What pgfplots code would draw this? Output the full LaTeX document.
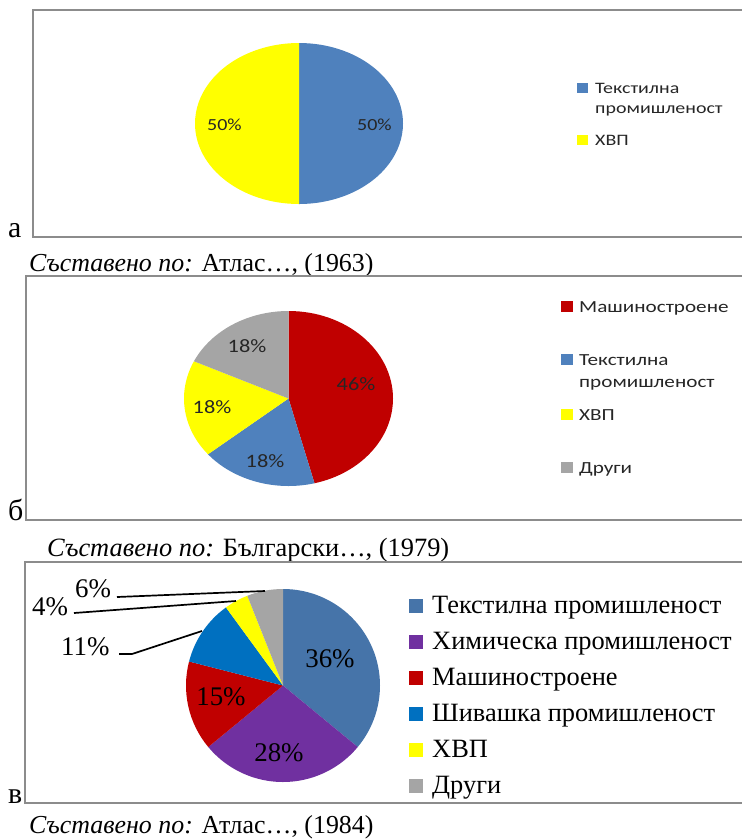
\documentclass[border=0pt]{standalone}
\usepackage{pgfplots}
\pgfplotsset{compat=1.18}
\usepackage{fontspec}
\setmainfont{Liberation Serif}
\newfontfamily\calA[FakeStretch=1.18]{Carlito}
\newfontfamily\calL[FakeStretch=1.25]{Carlito}
\definecolor{blueA}{HTML}{4F81BD}
\definecolor{yelA}{HTML}{FFFF00}
\definecolor{redB}{HTML}{C00000}
\definecolor{grayB}{HTML}{A5A5A5}
\definecolor{blueC}{HTML}{4674A9}
\definecolor{purpC}{HTML}{7030A0}
\definecolor{shivC}{HTML}{0070C0}
\definecolor{boxgray}{HTML}{8C8C8C}
\definecolor{txt}{HTML}{262626}

% pie helpers: running cumulative share, angles go clockwise from the top
\newcommand\piestart[4]{\xdef\pcx{#1}\xdef\pcy{#2}\xdef\prx{#3}\xdef\pry{#4}\xdef\pcum{0}}
\newcommand\slice[2]{%
  \pgfmathsetmacro\sa{90-3.6*\pcum}%
  \pgfmathsetmacro\newcum{\pcum+#1}\xdef\pcum{\newcum}%
  \pgfmathsetmacro\ea{90-3.6*\pcum}%
  \edef\tmp{\noexpand\fill[#2] (axis cs:\pcx,\pcy) -- ++(\sa:\prx bp and \pry bp)
    arc[start angle=\sa,end angle=\ea,x radius=\prx bp,y radius=\pry bp] -- cycle;}%
  \tmp}

\begin{document}
\begin{tikzpicture}
\begin{axis}[
  x=1bp, y=1bp, y dir=reverse,
  xmin=0, xmax=742, ymin=0, ymax=840,
  hide axis, clip=false,
]
% ---------------- panel a ----------------
\draw[boxgray, line width=1.3bp] (axis cs:742,10) -- (axis cs:33,10) -- (axis cs:33,237) -- (axis cs:742,237);
\piestart{299}{123.5}{104}{80.5}
\slice{50}{blueA}
\slice{50}{yelA}
\node[anchor=base, font=\calA\fontsize{17}{17}\selectfont, text=txt] at (axis cs:224.5,130) {50\%};
\node[anchor=base, font=\calA\fontsize{17}{17}\selectfont, text=txt] at (axis cs:374.5,130) {50\%};
\fill[blueA] (axis cs:577,83) rectangle (axis cs:588,93);
\fill[yelA] (axis cs:577,135) rectangle (axis cs:588,145);
\node[anchor=base west, inner sep=0, font=\calL\fontsize{16}{16}\selectfont, text=txt] at (axis cs:595,93) {Текстилна};
\node[anchor=base west, inner sep=0, font=\calL\fontsize{16}{16}\selectfont, text=txt] at (axis cs:595,113) {промишленост};
\node[anchor=base west, inner sep=0, font=\calL\fontsize{16}{16}\selectfont, text=txt] at (axis cs:595,145) {ХВП};
\node[anchor=base west, inner sep=0, font=\fontsize{30}{30}\selectfont] at (axis cs:8,237) {а};
\node[anchor=base west, inner sep=0, font=\fontsize{26}{26}\selectfont] at (axis cs:29,271) {\textit{Съставено по:} Атлас…, (1963)};
% ---------------- panel b ----------------
\draw[boxgray, line width=1.3bp] (axis cs:742,276) -- (axis cs:26,276) -- (axis cs:26,520) -- (axis cs:742,520);
\piestart{288.5}{398.5}{104.5}{87.5}
\slice{46}{redB}
\slice{18}{blueA}
\slice{18}{yelA}
\slice{18}{grayB}
\node[anchor=base, font=\calA\fontsize{19}{19}\selectfont, text=txt] at (axis cs:356,390) {46\%};
\node[anchor=base, font=\calA\fontsize{19}{19}\selectfont, text=txt] at (axis cs:247,352) {18\%};
\node[anchor=base, font=\calA\fontsize{19}{19}\selectfont, text=txt] at (axis cs:212,413) {18\%};
\node[anchor=base, font=\calA\fontsize{19}{19}\selectfont, text=txt] at (axis cs:265,467) {18\%};
\fill[redB] (axis cs:561,301) rectangle (axis cs:573,312);
\fill[blueA] (axis cs:561,354) rectangle (axis cs:573,365);
\fill[yelA] (axis cs:561,409) rectangle (axis cs:573,420);
\fill[grayB] (axis cs:561,462) rectangle (axis cs:573,473);
\node[anchor=base west, inner sep=0, font=\calL\fontsize{17}{17}\selectfont, text=txt] at (axis cs:579,312) {Машиностроене};
\node[anchor=base west, inner sep=0, font=\calL\fontsize{17}{17}\selectfont, text=txt] at (axis cs:579,365) {Текстилна};
\node[anchor=base west, inner sep=0, font=\calL\fontsize{17}{17}\selectfont, text=txt] at (axis cs:579,387) {промишленост};
\node[anchor=base west, inner sep=0, font=\calL\fontsize{17}{17}\selectfont, text=txt] at (axis cs:579,420) {ХВП};
\node[anchor=base west, inner sep=0, font=\calL\fontsize{17}{17}\selectfont, text=txt] at (axis cs:579,473) {Други};
\node[anchor=base west, inner sep=0, font=\fontsize{30}{30}\selectfont] at (axis cs:8,520) {б};
\node[anchor=base west, inner sep=0, font=\fontsize{26.5}{26.5}\selectfont] at (axis cs:47,556) {\textit{Съставено по:} Български…, (1979)};
% ---------------- panel c ----------------
\draw[boxgray, line width=1.3bp] (axis cs:742,562) -- (axis cs:25,562) -- (axis cs:25,803) -- (axis cs:742,803);
\piestart{283}{685.5}{97}{96.5}
\slice{36}{blueC}
\slice{28}{purpC}
\slice{15}{redB}
\slice{11}{shivC}
\slice{4}{yelA}
\slice{6}{grayB}
\node[anchor=base, font=\fontsize{27}{27}\selectfont] at (axis cs:330,667) {36\%};
\node[anchor=base, font=\fontsize{27}{27}\selectfont] at (axis cs:279,761) {28\%};
\node[anchor=base, font=\fontsize{27}{27}\selectfont] at (axis cs:221,705) {15\%};
\node[anchor=base west, inner sep=0, font=\fontsize{27}{27}\selectfont] at (axis cs:75,597) {6\%};
\node[anchor=base west, inner sep=0, font=\fontsize{27}{27}\selectfont] at (axis cs:32,615) {4\%};
\node[anchor=base west, inner sep=0, font=\fontsize{27}{27}\selectfont] at (axis cs:61,655) {11\%};
\draw[black, line width=1.7bp] (axis cs:117,597) -- (axis cs:265,591);
\draw[black, line width=1.7bp] (axis cs:74,613) -- (axis cs:236,601);
\draw[black, line width=1.7bp] (axis cs:119,654) -- (axis cs:132,654) -- (axis cs:202,631);
\fill[blueC] (axis cs:409,599) rectangle (axis cs:423,613);
\fill[purpC] (axis cs:409,635) rectangle (axis cs:423,649);
\fill[redB] (axis cs:409,671) rectangle (axis cs:423,685);
\fill[shivC] (axis cs:409,707) rectangle (axis cs:423,721);
\fill[yelA] (axis cs:409,743) rectangle (axis cs:423,757);
\fill[grayB] (axis cs:409,779) rectangle (axis cs:423,793);
\node[anchor=base west, inner sep=0, font=\fontsize{26.5}{26.5}\selectfont] at (axis cs:432,613) {Текстилна промишленост};
\node[anchor=base west, inner sep=0, font=\fontsize{26.5}{26.5}\selectfont] at (axis cs:432,649) {Химическа промишленост};
\node[anchor=base west, inner sep=0, font=\fontsize{26.5}{26.5}\selectfont] at (axis cs:432,685) {Машиностроене};
\node[anchor=base west, inner sep=0, font=\fontsize{26.5}{26.5}\selectfont] at (axis cs:432,721) {Шивашка промишленост};
\node[anchor=base west, inner sep=0, font=\fontsize{26.5}{26.5}\selectfont] at (axis cs:432,757) {ХВП};
\node[anchor=base west, inner sep=0, font=\fontsize{26.5}{26.5}\selectfont] at (axis cs:432,793) {Други};
\node[anchor=base west, inner sep=0, font=\fontsize{30}{30}\selectfont] at (axis cs:8,803) {в};
\node[anchor=base west, inner sep=0, font=\fontsize{26}{26}\selectfont] at (axis cs:29,833) {\textit{Съставено по:} Атлас…, (1984)};
\end{axis}
\pgfresetboundingbox
\path (0,0) rectangle (742bp,840bp);
\end{tikzpicture}
\end{document}
